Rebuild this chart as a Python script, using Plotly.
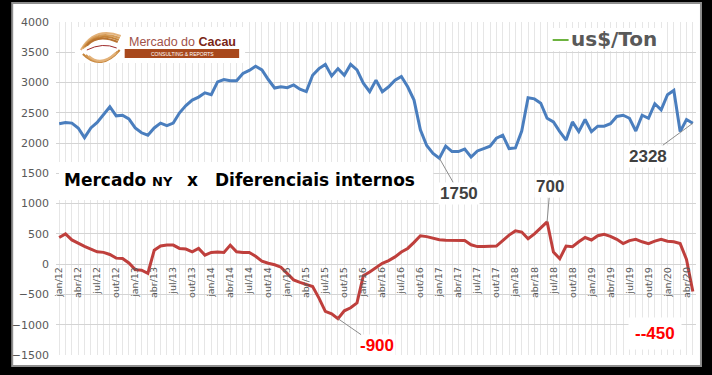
import plotly.graph_objects as go

# ---------------- data ----------------
month_names = ["jan", "fev", "mar", "abr", "mai", "jun", "jul", "ago", "set", "out", "nov", "dez"]
years = ["12", "13", "14", "15", "16", "17", "18", "19", "20"]
categories = [f"{m}/{y}" for y in years for m in month_names][:101]  # jan/12 .. mai/20

ny_price = [
    2320, 2340, 2330, 2250, 2090, 2250, 2340, 2480, 2600, 2450,
    2460, 2400, 2250, 2170, 2130, 2250, 2330, 2290, 2330, 2500,
    2620, 2710, 2760, 2830, 2800, 3010, 3050, 3030, 3030, 3150,
    3200, 3270, 3210, 3050, 2910, 2930, 2915, 2960, 2890, 2850,
    3120, 3230, 3300, 3110, 3230, 3120, 3300, 3210, 2990, 2850,
    3040, 2850, 2930, 3040, 3100, 2930, 2710, 2220, 1960, 1830,
    1750, 1950, 1860, 1860, 1900, 1770, 1870, 1910, 1950, 2080,
    2130, 1910, 1920, 2200, 2750, 2730, 2660, 2410, 2350, 2190,
    2050, 2350, 2190, 2390, 2190, 2280, 2280, 2320, 2440, 2460,
    2410, 2200, 2460, 2410, 2650, 2550, 2800, 2870, 2190, 2390,
    2328,
]

diferencial = [
    440, 500, 400, 345, 295, 250, 205, 195, 160, 100,
    95, 20, -90, -100, -150, 230, 300, 315, 315, 260,
    250, 205, 260, 150, 195, 200, 195, 315, 205, 195,
    195, 130, 50, 15, -10, -50, -155, -260, -300, -335,
    -370, -560, -780, -820, -900, -770, -720, -640, -190, -130,
    -50, 15, 60, 120, 200, 260, 360, 470, 455, 430,
    405, 395, 395, 395, 390, 320, 290, 290, 300, 300,
    390, 480, 550, 530, 420, 500, 600, 700, 200, 90,
    300, 290, 370, 440, 400, 470, 495, 460, 410, 340,
    390, 410, 370, 340, 380, 410, 380, 370, 340, 80,
    -450,
]

tick_labels = [c if i % 3 == 0 else "" for i, c in enumerate(categories)]
y_ticks = [-1500, -1000, -500, 0, 500, 1000, 1500, 2000, 2500, 3000, 3500, 4000]

# ---------------- styles ----------------
BLUE = "#4A7EBE"
RED = "#BF3F3C"
GRID_H = "#D4D4D4"
GRID_V = "#E6E6E6"
AXIS_TXT = "#595959"

W, H = 712, 375
L, R, T, B = 53, 696, 22, 355


def px(x):
    return (x - L) / (R - L)


def py(y):
    return (B - y) / (B - T)


fig = go.Figure()
fig.add_trace(go.Scatter(x=categories, y=ny_price, mode="lines",
                         line=dict(color=BLUE, width=3), showlegend=False,
                         name="us$/Ton"))
fig.add_trace(go.Scatter(x=categories, y=diferencial, mode="lines",
                         line=dict(color=RED, width=3), showlegend=False,
                         name="Diferenciais internos"))

shapes = []
# white frame with grey border
shapes.append(dict(type="rect", xref="paper", yref="paper",
                   x0=px(9), x1=px(701), y0=py(366), y1=py(3),
                   fillcolor="white", line=dict(color="#8E8E8E", width=2), layer="below"))
# logo box
shapes.append(dict(type="rect", xref="paper", yref="paper",
                   x0=px(72), x1=px(243), y0=py(63), y1=py(27),
                   fillcolor="white", line=dict(width=0), layer="above"))
# logo brown bar
shapes.append(dict(type="rect", xref="paper", yref="paper",
                   x0=px(122), x1=px(237), y0=py(58), y1=py(49),
                   fillcolor="#A8481C", line=dict(width=0), layer="above"))


def arc(x0, y0, cx, cy, x1, y1, color, width):
    return dict(type="path", xref="paper", yref="paper",
                path=f"M {px(x0)},{py(y0)} Q {px(cx)},{py(cy)} {px(x1)},{py(y1)}",
                line=dict(color=color, width=width), layer="above")


# logo swirl
for k, col in enumerate(["#E3B27A", "#D49A55", "#C5843A", "#B87330"]):
    shapes.append(arc(78 + k * 2, 50 - k * 1.5, 92 + k, 26 + k * 2.5, 118 - k, 36 + k * 2, col, 2))
for k, col in enumerate(["#C5843A", "#D49A55", "#E3B27A"]):
    shapes.append(arc(80 + k * 3, 54 + k, 98, 72 - k * 2.5, 117 - k * 2, 50 + k * 1.5, col, 2))
shapes.append(arc(84, 50, 100, 42, 114, 48, "#9E2A2A", 1))

# title box
shapes.append(dict(type="rect", xref="paper", yref="paper",
                   x0=px(56), x1=px(432), y0=py(200), y1=py(162),
                   fillcolor="white", line=dict(width=0), layer="above"))
# legend box
shapes.append(dict(type="rect", xref="paper", yref="paper",
                   x0=px(549), x1=px(664), y0=py(51), y1=py(28),
                   fillcolor="white", line=dict(width=0), layer="above"))
shapes.append(dict(type="line", xref="paper", yref="paper",
                   x0=px(552), x1=px(568), y0=py(40), y1=py(40),
                   line=dict(color="#6DB33F", width=2), layer="above"))

annotations = []


def ptext(x, y, text, size, color, family="DejaVu Sans", anchor="left", bold=True):
    annotations.append(dict(xref="paper", yref="paper", x=px(x), y=py(y),
                            text=f"<b>{text}</b>" if bold else text,
                            showarrow=False, xanchor=anchor, yanchor="middle",
                            font=dict(size=size, color=color, family=family)))


# title
ptext(59, 180, "Mercado", 17, "#000000")
ptext(147, 181.5, "NY", 13, "#000000")
ptext(183, 180, "x", 17, "#000000")
ptext(211, 180, "Diferenciais internos", 17, "#000000")
# legend
ptext(568, 38.5, "us$/Ton", 20, "#595959")
# logo text
annotations.append(dict(xref="paper", yref="paper", x=px(124), y=py(42),
                        text="Mercado do <span style='color:#7A2616'><b>Cacau</b></span>",
                        showarrow=False, xanchor="left", yanchor="middle",
                        font=dict(size=12.5, color="#A0524A", family="Liberation Sans")))
annotations.append(dict(xref="paper", yref="paper", x=px(180), y=py(53.5),
                        text="CONSULTING &amp; REPORTS", showarrow=False,
                        xanchor="center", yanchor="middle",
                        font=dict(size=5, color="white", family="Liberation Sans")))


def value_label(i, series, text, color, ax, ay, arrow=True, pad=1):
    annotations.append(dict(x=categories[i], y=series[i], xref="x", yref="y",
                            text=f"<b>{text}</b>", showarrow=True, arrowhead=0,
                            arrowwidth=1, arrowcolor="#8C8C8C" if arrow else "rgba(0,0,0,0)",
                            ax=ax, ay=ay, bgcolor="white", borderpad=pad,
                            font=dict(size=17, color=color, family="Liberation Sans")))


value_label(60, ny_price, str(ny_price[60]), "#404040", 20, 35)
value_label(100, ny_price, str(ny_price[100]), "#404040", -45, 33)
value_label(77, diferencial, str(diferencial[77]), "#404040", 3, -35)
value_label(44, diferencial, str(diferencial[44]), "#FF0000", 39, 27)
value_label(100, diferencial, "-" + str(diferencial[100]), "#FF0000", -38, 42, arrow=False, pad=6)

fig.update_layout(
    width=W, height=H,
    margin=dict(l=L, r=W - R, t=T, b=H - B, pad=0),
    paper_bgcolor="#000000",
    plot_bgcolor="rgba(0,0,0,0)",
    shapes=shapes,
    annotations=annotations,
    showlegend=False,
    xaxis=dict(type="category", range=[-0.5, len(categories) - 0.5],
               tickmode="array", tickvals=categories, ticktext=tick_labels,
               tickangle=-90, anchor="free", position=1500 / 5500,
               showgrid=True, gridcolor=GRID_V, gridwidth=1,
               showline=False, ticks="", zeroline=False,
               tickfont=dict(size=9.5, color=AXIS_TXT, family="DejaVu Sans")),
    yaxis=dict(range=[-1500, 4000], tickmode="array", tickvals=y_ticks,
               showgrid=True, gridcolor=GRID_H, gridwidth=1,
               zeroline=True, zerolinecolor=GRID_H, zerolinewidth=1,
               showline=False, ticks="", ticklabelstandoff=6,
               tickfont=dict(size=11, color=AXIS_TXT, family="DejaVu Sans")),
)

fig.write_html("out.html",
               config={"displayModeBar": False},
               post_script="document.body.style.margin='0';document.body.style.background='#000';")
